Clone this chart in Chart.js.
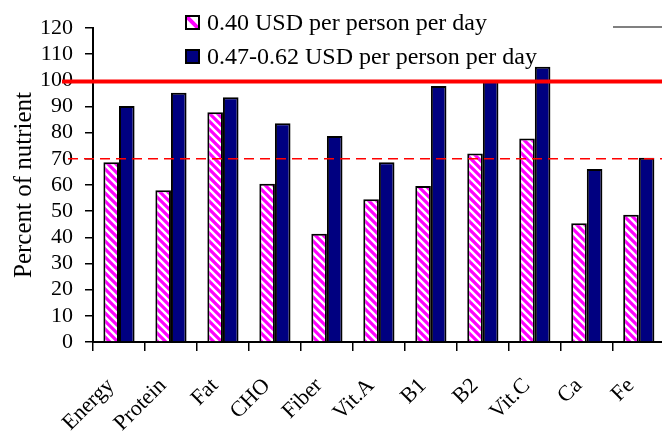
<!DOCTYPE html>
<html lang="en">
<head>
    <meta charset="UTF-8">
    <title>Percent of nutrient</title>
    <script src="https://cdn.jsdelivr.net/npm/chart.js"></script>
    <style>
        html, body { margin: 0; padding: 0; overflow: hidden; background: #fff; }
    </style>
</head>
<body>
    <canvas id="myChart" width="680" height="438"></canvas>

    <script>
        const nutrients = ['Energy', 'Protein', 'Fat', 'CHO', 'Fiber', 'Vit.A', 'B1', 'B2', 'Vit.C', 'Ca', 'Fe'];
        const low = [68.7, 58, 87.8, 60.5, 41.4, 54.6, 59.6, 72, 77.8, 45.4, 48.6];   // 0.40 USD
        const high = [90.2, 95.3, 93.5, 83.6, 78.7, 68.7, 97.8, 100.1, 105.2, 66.1, 70.4]; // 0.47-0.62 USD
        const seriesNames = ['0.40 USD per person per day', '0.47-0.62 USD per person per day'];
        const refLines = [99.6, 70];
        const yTicks = [0, 120, 10]; // min, max, step

        const font = '"Liberation Serif", "Times New Roman", serif';

        // magenta diagonal hatch
        function makeHatch() {
            const c = document.createElement('canvas');
            c.width = 8; c.height = 8;
            const g = c.getContext('2d');
            g.fillStyle = '#fff';
            g.fillRect(0, 0, 8, 8);
            g.strokeStyle = '#ff00ff';
            g.lineWidth = 3.2;
            g.beginPath();
            g.moveTo(-2, -2); g.lineTo(10, 10);
            g.moveTo(-2, 6); g.lineTo(2, 10);
            g.moveTo(6, -2); g.lineTo(10, 2);
            g.stroke();
            return g.createPattern(c, 'repeat');
        }
        const ctx = document.getElementById('myChart').getContext('2d');
        const hatch = makeHatch();

        // red reference lines (solid and dashed), drawn over the bars
        const refLinePlugin = {
            id: 'refLines',
            afterDatasetsDraw(chart) {
                const c = chart.ctx, y = chart.scales.y, area = chart.chartArea;
                c.save();
                c.strokeStyle = '#ff0000';
                refLines.forEach((v, i) => {
                    const py = y.getPixelForValue(v);
                    c.lineWidth = i === 0 ? 4 : 1.5;
                    c.setLineDash(i === 0 ? [] : [10, 6]);
                    c.beginPath();
                    c.moveTo(i === 0 ? 62 : 68, py);
                    c.lineTo(area.right + 20, py);
                    c.stroke();
                });
                c.restore();
            }
        };

        // legend in the upper part of the plot
        const legendPlugin = {
            id: 'myLegend',
            afterDraw(chart) {
                const c = chart.ctx;
                c.save();
                c.font = '24px ' + font;
                c.textBaseline = 'middle';
                chart.data.datasets.forEach((ds, i) => {
                    const yy = 23 + i * 34;
                    c.fillStyle = i === 0 ? '#fff' : ds.backgroundColor;
                    c.fillRect(186, yy - 7, 13, 13);
                    if (i === 0) {
                        c.save();
                        c.beginPath();
                        c.rect(186, yy - 7, 13, 13);
                        c.clip();
                        c.strokeStyle = '#ff00ff';
                        c.lineWidth = 4;
                        c.beginPath();
                        c.moveTo(186, yy - 7); c.lineTo(199, yy + 6);
                        c.stroke();
                        c.restore();
                    }
                    c.strokeStyle = '#000';
                    c.lineWidth = 2;
                    c.strokeRect(186, yy - 7, 13, 13);
                    c.fillStyle = '#000';
                    c.fillText(ds.label, 207, yy + 1);
                });
                c.strokeStyle = '#808080';
                c.lineWidth = 2;
                c.beginPath();
                c.moveTo(613, 27); c.lineTo(680, 27);
                c.stroke();
                c.restore();
            }
        };

        new Chart(ctx, {
            type: 'bar',
            data: {
                labels: nutrients,
                datasets: [
                    {
                        label: seriesNames[0],
                        data: low,
                        backgroundColor: hatch,
                        borderColor: '#000',
                        borderWidth: 2,
                        borderSkipped: 'bottom'
                    },
                    {
                        label: seriesNames[1],
                        data: high,
                        backgroundColor: '#000080',
                        borderColor: '#000',
                        borderWidth: 2,
                        borderSkipped: 'bottom'
                    }
                ]
            },
            options: {
                responsive: false,
                animation: false,
                categoryPercentage: 0.6,
                barPercentage: 1.0,
                layout: { padding: { top: 28, right: 12, left: 0, bottom: 0 } },
                plugins: {
                    legend: { display: false },
                    tooltip: { enabled: false }
                },
                scales: {
                    x: {
                        grid: { drawOnChartArea: false, color: '#000', tickLength: 9, lineWidth: 1.5 },
                        border: { color: '#000', width: 2 },
                        ticks: {
                            color: '#000',
                            font: { family: font, size: 22 },
                            minRotation: 45,
                            maxRotation: 45,
                            padding: 22,
                            labelOffset: -8
                        },
                        afterFit: (scale) => { scale.height = 96; }
                    },
                    y: {
                        min: yTicks[0],
                        max: yTicks[1],
                        grid: { drawOnChartArea: false, color: '#000', tickLength: 8, lineWidth: 1.5 },
                        border: { color: '#000', width: 2 },
                        ticks: {
                            stepSize: yTicks[2],
                            autoSkip: false,
                            color: '#000',
                            padding: 12,
                            font: { family: font, size: 22 }
                        },
                        title: {
                            display: true,
                            text: 'Percent of nutrient',
                            color: '#000',
                            font: { family: font, size: 25 },
                            padding: { top: 9, bottom: 0 }
                        },
                        afterFit: (scale) => { scale.width = 93; }
                    }
                }
            },
            plugins: [refLinePlugin, legendPlugin]
        });
    </script>
</body>
</html>
